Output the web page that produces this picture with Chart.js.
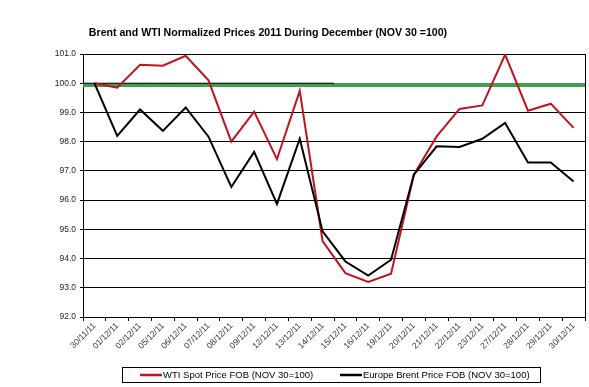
<!DOCTYPE html>
<html>
<head>
<meta charset="utf-8">
<script src="https://cdn.jsdelivr.net/npm/chart.js@4.4.1/dist/chart.umd.min.js"></script>
<style>
  html, body { margin: 0; padding: 0; background: #fff; }
  #wrap { width: 589px; height: 387px; position: relative; }
</style>
</head>
<body>
<div id="wrap"><canvas id="chart"></canvas></div>
<script>
// dates on the x axis
const dates = ['30/11/11','01/12/11','02/12/11','05/12/11','06/12/11','07/12/11','08/12/11','09/12/11',
  '12/12/11','13/12/11','14/12/11','15/12/11','16/12/11','19/12/11','20/12/11','21/12/11',
  '22/12/11','23/12/11','27/12/11','28/12/11','29/12/11','30/12/11'];

// normalized prices (NOV 30 = 100)
const wti = [100.0, 99.85, 100.63, 100.6, 100.94, 100.1, 98.0, 99.03, 97.4, 99.74, 94.6,
  93.5, 93.2, 93.48, 96.87, 98.18, 99.12, 99.24, 100.98, 99.06, 99.3, 98.47];
const brent = [100.0, 98.2, 99.1, 98.37, 99.17, 98.17, 96.45, 97.65, 95.87, 98.1, 94.93,
  93.9, 93.42, 93.96, 96.87, 97.84, 97.82, 98.1, 98.64, 97.29, 97.29, 96.64];

// the base line at 100
const baseLevel = 99.94;
const refLevel = 100;
const refEnd = 11 / 22;

const yTicks = { min: 92, max: 101, step: 1 };
const titleText = 'Brent and WTI Normalized Prices 2011 During December (NOV 30 =100)';
const FONT = "Arial, 'Liberation Sans', sans-serif";

// title + legend box + right frame
const decorations = {
  id: 'decorations',
  afterDraw(chart) {
    const ctx = chart.ctx;
    const a = chart.chartArea;
    ctx.save();
    // right frame line
    ctx.strokeStyle = '#000';
    ctx.lineWidth = 1;
    ctx.beginPath();
    ctx.moveTo(Math.round(a.right) + 0.5, a.top);
    ctx.lineTo(Math.round(a.right) + 0.5, a.bottom + 4);
    ctx.stroke();

    // title
    ctx.fillStyle = '#000';
    ctx.font = 'bold 10.6px ' + FONT;
    ctx.textAlign = 'center';
    ctx.textBaseline = 'middle';
    ctx.fillText(titleText, 268, 33);

    // legend
    ctx.strokeRect(122.5, 367.5, 418, 15);
    ctx.font = '9.5px ' + FONT;
    ctx.textAlign = 'left';
    const items = [chart.data.datasets[0], chart.data.datasets[1]];
    const xs = [140, 340];
    items.forEach((ds, i) => {
      ctx.strokeStyle = ds.borderColor;
      ctx.lineWidth = 2.5;
      ctx.beginPath();
      ctx.moveTo(xs[i], 375);
      ctx.lineTo(xs[i] + 22, 375);
      ctx.stroke();
      ctx.fillStyle = '#000';
      ctx.fillText(ds.label, xs[i] + 23, 375.5);
    });
    ctx.restore();
  }
};

new Chart(document.getElementById('chart'), {
  type: 'line',
  data: {
    labels: dates,
    datasets: [
      {
        label: 'WTI Spot Price FOB (NOV 30=100)',
        data: wti,
        borderColor: '#c0141e',
        borderWidth: 2,
        pointRadius: 0,
        tension: 0,
        order: 1
      },
      {
        label: 'Europe Brent Price FOB (NOV 30=100)',
        data: brent,
        borderColor: '#000000',
        borderWidth: 2,
        pointRadius: 0,
        tension: 0,
        order: 0
      },
      {
        label: 'base',
        data: [{x: 0, y: baseLevel}, {x: 1, y: baseLevel}],
        xAxisID: 'x2',
        borderColor: '#3c9f52',
        borderWidth: 4,
        pointRadius: 0,
        clip: {left: 0, top: 0, right: 4, bottom: 0},
        order: 3
      },
      {
        label: 'ref',
        data: [{x: 0, y: refLevel}, {x: refEnd, y: refLevel}],
        xAxisID: 'x2',
        borderColor: '#000000',
        borderWidth: 1,
        pointRadius: 0,
        order: 2
      }
    ]
  },
  options: {
    responsive: true,
    maintainAspectRatio: false,
    animation: false,
    devicePixelRatio: 1,
    layout: { padding: { top: 54, right: 4, left: 0, bottom: 0 } },
    plugins: {
      legend: { display: false },
      title: { display: false },
      tooltip: { enabled: false }
    },
    scales: {
      x: {
        type: 'category',
        offset: true,
        grid: { offset: true, drawOnChartArea: false, drawTicks: true, tickLength: 4, color: '#000' },
        border: { color: '#000', width: 1 },
        ticks: {
          minRotation: 45,
          maxRotation: 45,
          autoSkip: false,
          padding: 0,
          color: '#333',
          font: { family: FONT, size: 8.5 }
        },
        afterFit(axis) { axis.height = 70; }
      },
      x2: {
        type: 'linear',
        min: 0,
        max: 1,
        display: false
      },
      y: {
        min: yTicks.min,
        max: yTicks.max,
        grid: { color: '#000', lineWidth: 1, tickLength: 3 },
        border: { color: '#000', width: 1 },
        ticks: {
          stepSize: yTicks.step,
          padding: 4,
          color: '#222',
          font: { family: FONT, size: 8.5 },
          callback: v => v.toFixed(1)
        },
        afterFit(axis) { axis.width = 83; }
      }
    }
  },
  plugins: [decorations]
});
</script>
</body>
</html>
